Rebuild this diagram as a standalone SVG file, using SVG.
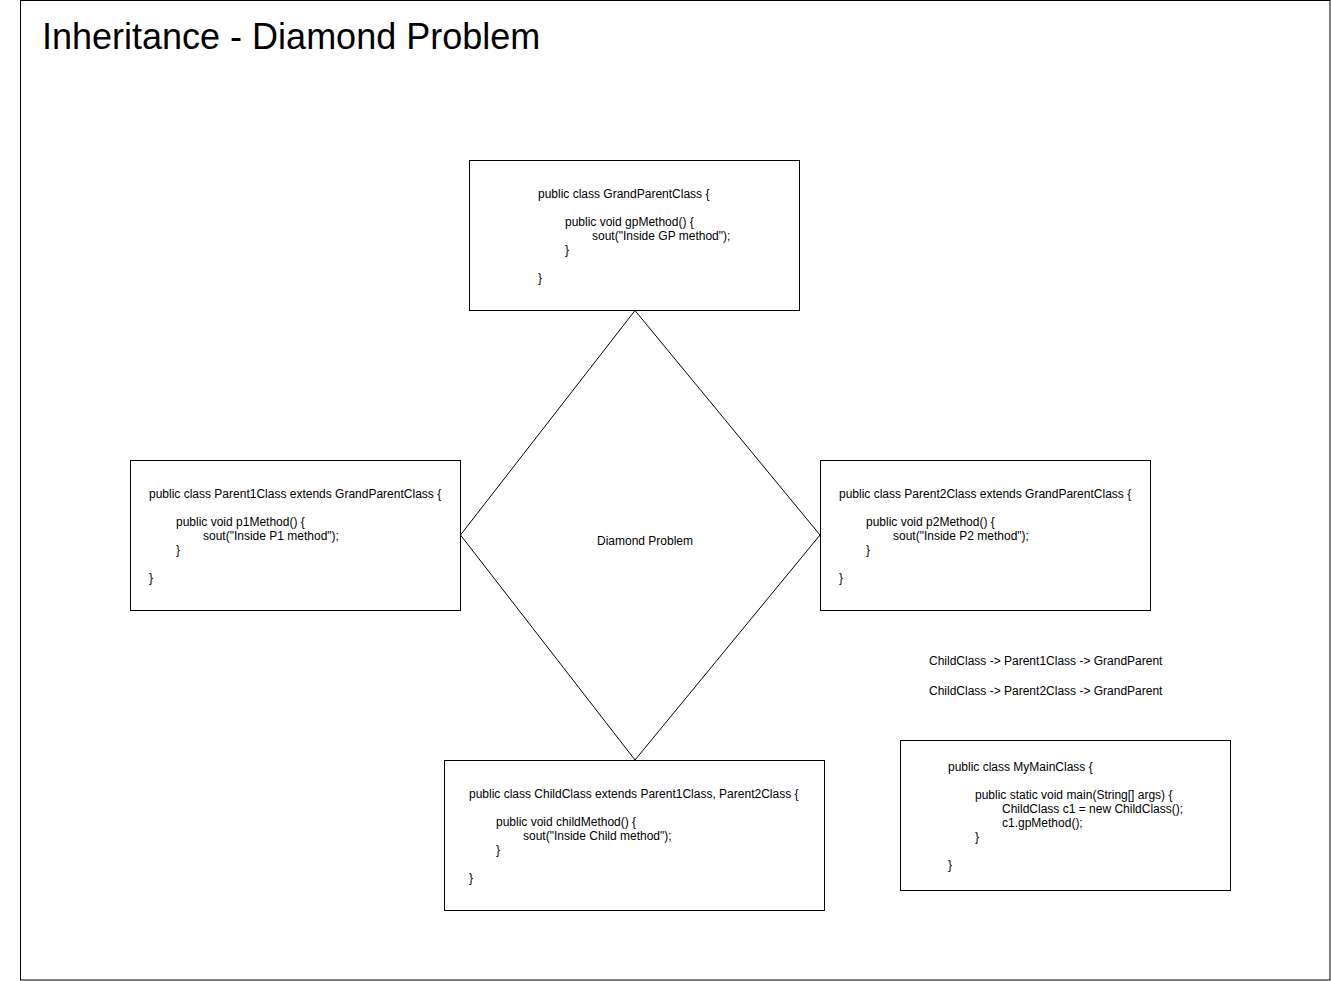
<svg xmlns="http://www.w3.org/2000/svg" width="1331" height="981" viewBox="0 0 1331 981">
<style>
.box{fill:#fff;stroke:#000;stroke-width:1}
.t{font-family:"Liberation Sans",Arial,Helvetica,sans-serif;font-size:12px;fill:#000}
.title{font-family:"Liberation Sans",Arial,Helvetica,sans-serif;font-size:36px;fill:#000}
</style>
<rect x="0" y="0" width="1331" height="981" fill="#fff"/>
<g id="frame">
<rect x="20.5" y="0.5" width="1309.5" height="979.5" fill="none" stroke="#000" stroke-width="1"/>
<text class="title" x="42" y="49">Inheritance - Diamond Problem</text>
</g>
<g id="connectors"></g>
<g id="diamond">
<polygon class="box" points="635,310.5 820,535 635,760 460.5,535"/>
<text class="t" x="645" y="545" text-anchor="middle">Diamond Problem</text>
</g>
<g id="grandparent">
<rect class="box" x="469.5" y="160.5" width="330" height="150"/>
<text class="t" x="538" y="198">public class GrandParentClass {</text>
<text class="t" x="565" y="226">public void gpMethod() {</text>
<text class="t" x="592" y="240">sout("Inside GP method");</text>
<text class="t" x="565" y="254">}</text>
<text class="t" x="538" y="282">}</text>
</g>
<g id="parent1">
<rect class="box" x="130.5" y="460.5" width="330" height="150"/>
<text class="t" x="149" y="498">public class Parent1Class extends GrandParentClass {</text>
<text class="t" x="176" y="526">public void p1Method() {</text>
<text class="t" x="203" y="540">sout("Inside P1 method");</text>
<text class="t" x="176" y="554">}</text>
<text class="t" x="149" y="582">}</text>
</g>
<g id="parent2">
<rect class="box" x="820.5" y="460.5" width="330" height="150"/>
<text class="t" x="839" y="498">public class Parent2Class extends GrandParentClass {</text>
<text class="t" x="866" y="526">public void p2Method() {</text>
<text class="t" x="893" y="540">sout("Inside P2 method");</text>
<text class="t" x="866" y="554">}</text>
<text class="t" x="839" y="582">}</text>
</g>
<g id="child">
<rect class="box" x="444.5" y="760.5" width="380" height="150"/>
<text class="t" x="469" y="798">public class ChildClass extends Parent1Class, Parent2Class {</text>
<text class="t" x="496" y="826">public void childMethod() {</text>
<text class="t" x="523" y="840">sout("Inside Child method");</text>
<text class="t" x="496" y="854">}</text>
<text class="t" x="469" y="882">}</text>
</g>
<g id="paths">
<text class="t" x="929" y="665">ChildClass -&gt; Parent1Class -&gt; GrandParent</text>
<text class="t" x="929" y="695">ChildClass -&gt; Parent2Class -&gt; GrandParent</text>
</g>
<g id="mymain">
<rect class="box" x="900.5" y="740.5" width="330" height="150"/>
<text class="t" x="948" y="771">public class MyMainClass {</text>
<text class="t" x="975" y="799">public static void main(String[] args) {</text>
<text class="t" x="1002" y="813">ChildClass c1 = new ChildClass();</text>
<text class="t" x="1002" y="827">c1.gpMethod();</text>
<text class="t" x="975" y="841">}</text>
<text class="t" x="948" y="869">}</text>
</g>
</svg>
